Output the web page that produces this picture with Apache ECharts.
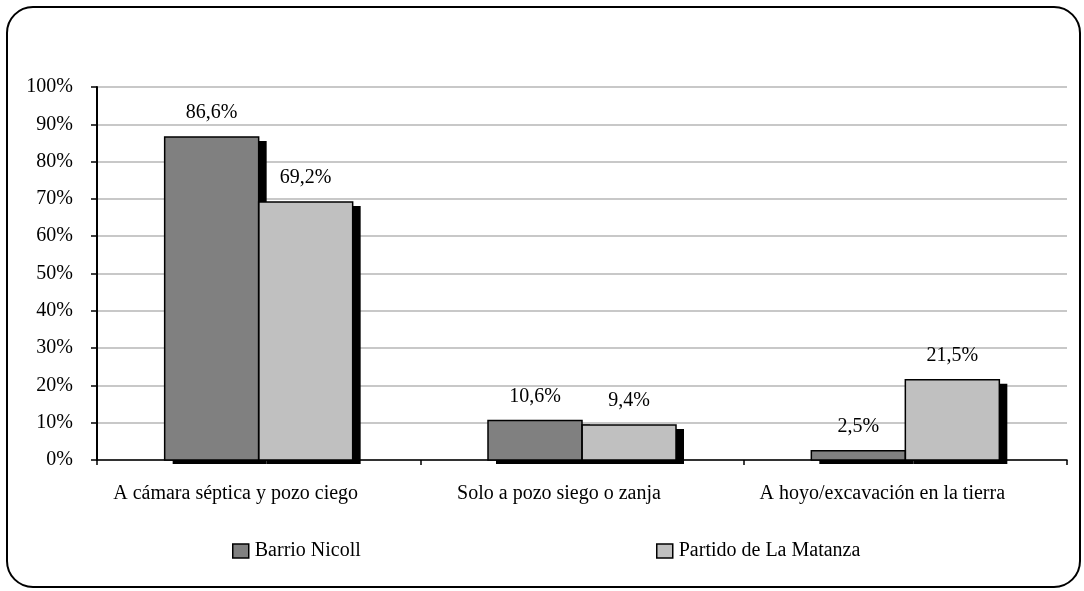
<!DOCTYPE html>
<html>
<head>
<meta charset="utf-8">
<script src="https://cdn.jsdelivr.net/npm/echarts@6/dist/echarts.min.js"></script>
<style>
  html, body { margin: 0; padding: 0; background: #fff; }
  #chart { width: 1084px; height: 591px; }
</style>
</head>
<body>
<div id="chart"></div>
<script>
const categories = ['A cámara séptica y pozo ciego', 'Solo a pozo siego o zanja', 'A hoyo/excavación en la tierra']
const seriesNames = ['Barrio Nicoll', 'Partido de La Matanza']
const barrioNicoll = [86.6, 10.6, 2.5]
const laMatanza = [69.2, 9.4, 21.5]

const font = "'Liberation Serif', 'Times New Roman', serif"
const colors = ['#808080', '#c0c0c0']
const BAR_W = 94

const chart = echarts.init(document.getElementById('chart'))

function pct(v) {
  return v.toFixed(1).replace('.', ',') + '%'
}

// filled bar with the black drop shadow, no border (border comes from the outline series)
function barSeries(name, data, color) {
  return {
    name: name,
    type: 'bar',
    data: data,
    barWidth: BAR_W,
    barGap: '0%',
    itemStyle: {
      color: color,
      shadowColor: '#000',
      shadowBlur: 0,
      shadowOffsetX: 8,
      shadowOffsetY: 4
    },
    label: {
      show: true,
      position: 'top',
      distance: 14,
      color: '#000',
      fontFamily: font,
      fontSize: 20,
      formatter: p => pct(p.value)
    }
  }
}

// thin black outline drawn over each bar, side -1 = left bar, 0 = right bar
function outlineSeries(data, side) {
  return {
    type: 'custom',
    name: 'outline' + side,
    z: 3,
    silent: true,
    data: data.map((v, i) => [i, v]),
    encode: { x: 0, y: 1 },
    renderItem: (params, api) => {
      const base = api.coord([api.value(0), 0])
      const top = api.coord([api.value(0), api.value(1)])
      return {
        type: 'rect',
        shape: { x: base[0] + side * BAR_W, y: top[1], width: BAR_W, height: base[1] - top[1] },
        style: { fill: 'none', stroke: '#000', lineWidth: 1.5 }
      }
    }
  }
}

function legendFor(name, left) {
  return {
    data: [{ name: name, icon: 'rect' }],
    left: left,
    top: 536,
    itemWidth: 16,
    itemHeight: 14,
    itemGap: 0,
    selectedMode: false,
    textStyle: { color: '#000', fontFamily: font, fontSize: 20, padding: [0, 0, 0, 1] },
    itemStyle: { borderColor: '#000', borderWidth: 1.5, shadowColor: 'transparent', shadowOffsetX: 0, shadowOffsetY: 0 }
  }
}

const option = {
  backgroundColor: '#fff',
  animation: false,
  graphic: [{
    type: 'rect',
    shape: { x: 7, y: 7, width: 1073, height: 580, r: 26 },
    style: { fill: 'none', stroke: '#000', lineWidth: 2 },
    silent: true
  }],
  legend: [
    legendFor(seriesNames[0], 227),
    legendFor(seriesNames[1], 651)
  ],
  grid: { left: 97, right: 17, top: 87, bottom: 131 },
  xAxis: {
    type: 'category',
    data: categories,
    axisLine: { lineStyle: { color: '#000', width: 1.5 } },
    axisTick: { show: true, length: 5, lineStyle: { color: '#000', width: 1.5 } },
    axisLabel: { color: '#000', fontFamily: font, fontSize: 20, margin: 24, padding: [0, 46, 0, 0] },
    splitLine: { show: false }
  },
  yAxis: {
    type: 'value',
    min: 0,
    max: 100,
    interval: 10,
    axisLine: { show: true, lineStyle: { color: '#000', width: 2 } },
    axisTick: { show: true, length: 6, lineStyle: { color: '#000', width: 1.5 } },
    axisLabel: { color: '#000', fontFamily: font, fontSize: 20, margin: 24, formatter: '{value}%' },
    splitLine: { lineStyle: { color: '#c8c8c8', width: 2 } }
  },
  series: [
    barSeries(seriesNames[0], barrioNicoll, colors[0]),
    barSeries(seriesNames[1], laMatanza, colors[1]),
    outlineSeries(barrioNicoll, -1),
    outlineSeries(laMatanza, 0)
  ]
}

chart.setOption(option)
</script>
</body>
</html>
